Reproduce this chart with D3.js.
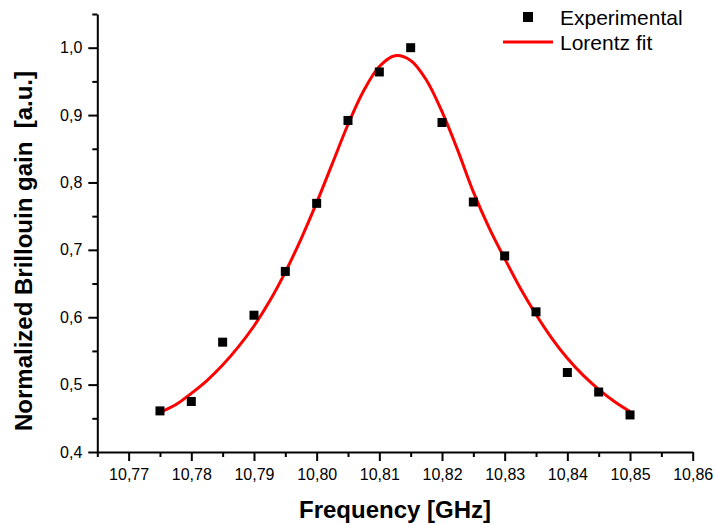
<!DOCTYPE html>
<html>
<head>
<meta charset="utf-8">
<script src="https://cdn.jsdelivr.net/npm/d3@7"></script>
<style>
  body { margin: 0; background: #fff; }
  svg { display: block; }
  text { font-family: "Liberation Sans", Arial, sans-serif; fill: #000; }
</style>
</head>
<body>
<svg id="chart" width="715" height="525"></svg>
<script>
// Measured Brillouin gain spectrum
const freq = [10.775, 10.780, 10.785, 10.790, 10.795, 10.800, 10.805, 10.810,
              10.815, 10.820, 10.825, 10.830, 10.835, 10.840, 10.845, 10.850];
const gain = [0.461, 0.475, 0.563, 0.603, 0.668, 0.769, 0.892, 0.964,
              1.000, 0.889, 0.771, 0.691, 0.608, 0.518, 0.489, 0.455];

// Lorentzian fit curve, sampled every 2.5 MHz
const fitFreq = [10.7750, 10.7775, 10.7800, 10.7825, 10.7850, 10.7875, 10.7900, 10.7925,
                 10.7950, 10.7975, 10.8000, 10.8025, 10.8050, 10.8075, 10.8100, 10.8125,
                 10.8150, 10.8175, 10.8200, 10.8225, 10.8250, 10.8275, 10.8300, 10.8325,
                 10.8350, 10.8375, 10.8400, 10.8425, 10.8450, 10.8475, 10.8500];
const fitGain = [0.459, 0.470, 0.487, 0.506, 0.529, 0.556, 0.587, 0.624,
                 0.667, 0.716, 0.770, 0.828, 0.886, 0.936, 0.972, 0.988,
                 0.981, 0.952, 0.905, 0.848, 0.786, 0.733, 0.687, 0.643,
                 0.604, 0.569, 0.539, 0.514, 0.493, 0.475, 0.460];

const xMajorTicks = [10.77, 10.78, 10.79, 10.80, 10.81, 10.82, 10.83, 10.84, 10.85, 10.86];
const xMinorTicks = [10.765, 10.775, 10.785, 10.795, 10.805, 10.815, 10.825, 10.835, 10.845, 10.855];
const yMajorTicks = [0.4, 0.5, 0.6, 0.7, 0.8, 0.9, 1.0];
const yMinorTicks = [0.45, 0.55, 0.65, 0.75, 0.85, 0.95, 1.05];

const seriesNames = ["Experimental", "Lorentz fit"];
const xTitle = "Frequency [GHz]";
const yTitle = "Normalized Brillouin gain  [a.u.]";

const svg = d3.select("#chart");

const x = d3.scaleLinear().domain([10.765, 10.86]).range([97.3, 692.7]);
const y = d3.scaleLinear().domain([0.4, 1.05]).range([452, 14]);

// Decimal comma formatting
const locale = d3.formatLocale({ decimal: ",", thousands: ".", grouping: [3], currency: ["", ""] });
const fx = locale.format(".2f");
const fy = locale.format(".1f");

// Axes
function styleAxis(g) {
  g.selectAll("path.domain").attr("stroke", "#000").attr("stroke-width", 2);
  g.selectAll(".tick line").attr("stroke", "#000").attr("stroke-width", 2);
  g.selectAll(".tick text").style("font-size", "16px").attr("fill", "#000");
}

const xAxisG = svg.append("g").attr("transform", `translate(0,${y.range()[0]})`)
  .call(d3.axisBottom(x).tickValues(xMajorTicks).tickFormat(fx).tickSize(9).tickSizeOuter(0));
styleAxis(xAxisG);
xAxisG.selectAll(".tick text").attr("dy", "0.71em").attr("y", 17);

const xMinorG = svg.append("g").attr("transform", `translate(0,${y.range()[0]})`)
  .call(d3.axisBottom(x).tickValues(xMinorTicks).tickFormat("").tickSize(5).tickSizeOuter(0));
xMinorG.select("path.domain").remove();
styleAxis(xMinorG);

const yAxisG = svg.append("g").attr("transform", `translate(${x.range()[0]},0)`)
  .call(d3.axisLeft(y).tickValues(yMajorTicks).tickFormat(fy).tickSize(9).tickSizeOuter(0).tickPadding(6));
styleAxis(yAxisG);

const yMinorG = svg.append("g").attr("transform", `translate(${x.range()[0]},0)`)
  .call(d3.axisLeft(y).tickValues(yMinorTicks).tickFormat("").tickSize(5).tickSizeOuter(0));
yMinorG.select("path.domain").remove();
styleAxis(yMinorG);

// Axis titles
svg.append("text")
  .attr("x", (x.range()[0] + x.range()[1]) / 2)
  .attr("y", 518)
  .attr("text-anchor", "middle")
  .style("font-size", "24px").style("font-weight", "bold")
  .text(xTitle);

svg.append("text")
  .attr("transform", "translate(23,251) rotate(-90)")
  .attr("text-anchor", "middle")
  .attr("dominant-baseline", "central")
  .style("font-size", "24px").style("font-weight", "bold")
  .style("white-space", "pre")
  .text(yTitle);

// Fit curve
const fitData = fitFreq.map((f, i) => [f, fitGain[i]]);
svg.append("path")
  .datum(fitData)
  .attr("fill", "none")
  .attr("stroke", "#ff0000")
  .attr("stroke-width", 3)
  .attr("stroke-linejoin", "round")
  .attr("d", d3.line().x(d => x(d[0])).y(d => y(d[1])).curve(d3.curveCatmullRom.alpha(0.5)));

// Experimental points
const msize = 9;
svg.append("g").selectAll("rect")
  .data(freq.map((f, i) => [f, gain[i]]))
  .join("rect")
  .attr("x", d => x(d[0]) - msize / 2)
  .attr("y", d => y(d[1]) - msize / 2)
  .attr("width", msize)
  .attr("height", msize)
  .attr("fill", "#000");

// Legend
const legend = svg.append("g");
const lsize = 10;
legend.append("rect")
  .attr("x", 528 - lsize / 2).attr("y", 17 - lsize / 2)
  .attr("width", lsize).attr("height", lsize).attr("fill", "#000");
legend.append("text").attr("x", 560).attr("y", 24.5)
  .style("font-size", "21px").text(seriesNames[0]);
legend.append("line")
  .attr("x1", 503).attr("x2", 553).attr("y1", 42).attr("y2", 42)
  .attr("stroke", "#ff0000").attr("stroke-width", 3);
legend.append("text").attr("x", 560).attr("y", 49.5)
  .style("font-size", "21px").text(seriesNames[1]);
</script>
</body>
</html>
